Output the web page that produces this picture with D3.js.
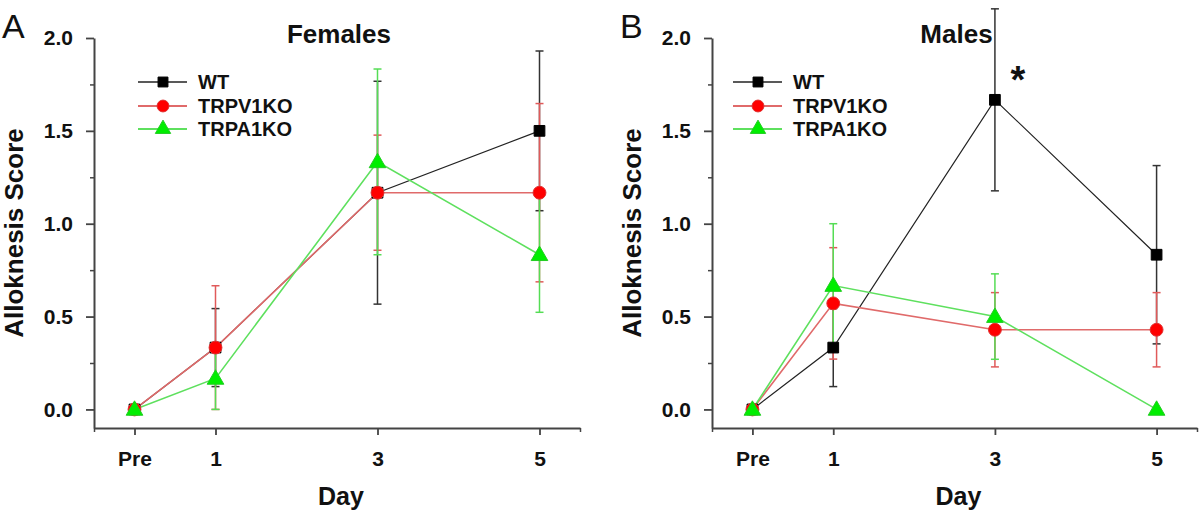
<!DOCTYPE html>
<html><head><meta charset="utf-8">
<script src="https://cdn.jsdelivr.net/npm/d3@7"></script>
<style>
html,body{margin:0;padding:0;background:#fff;}
svg{display:block;font-family:"Liberation Sans",Arial,sans-serif;}
</style></head>
<body>
<svg id="chart" width="1200" height="516"></svg>
<script>
// ---- data ----
const dayLabels = ["Pre", "1", "3", "5"];
const dayValues = [0, 1, 3, 5];
const seriesNames = ["WT", "TRPV1KO", "TRPA1KO"];
const yTicks = [0, 0.5, 1.0, 1.5, 2.0];
const yMinorTicks = [0.25, 0.75, 1.25, 1.75];

const femalesWT = [0, 0.333, 1.167, 1.5];
const femalesWTErr = [0, 0.21, 0.6, 0.43];
const femalesTRPV1 = [0, 0.333, 1.167, 1.167];
const femalesTRPV1Err = [0, 0.333, 0.31, 0.48];
const femalesTRPA1 = [0, 0.167, 1.333, 0.833];
const femalesTRPA1Err = [0, 0.167, 0.5, 0.31];

const malesWT = [0, 0.333, 1.667, 0.833];
const malesWTErr = [0, 0.21, 0.49, 0.48];
const malesTRPV1 = [0, 0.571, 0.429, 0.429];
const malesTRPV1Err = [0, 0.3, 0.2, 0.2];
const malesTRPA1 = [0, 0.667, 0.5, 0];
const malesTRPA1Err = [0, 0.333, 0.23, 0];

// ---- styles ----
const styles = [
  {line: "#222", err: "#333", fill: "#000", stroke: "#000", shape: d3.symbolSquare, size: 115},
  {line: "#e06a6a", err: "#e05a5a", fill: "#ff0000", stroke: "#e03030", shape: d3.symbolCircle, size: 130},
  {line: "#5ee05e", err: "#55dd55", fill: "#00ee00", stroke: "#22cc22", shape: d3.symbolTriangle, size: 120}
];

const svg = d3.select("#chart");
const font = '"Liberation Sans",Arial,sans-serif';

function panel(opts) {
  const x = d3.scaleLinear().domain([-0.5, 5.5]).range([opts.x0, opts.x1]);
  const y = d3.scaleLinear().domain([-0.1, 2.0]).range([428, 38]);
  const g = svg.append("g");

  // y axis
  const yAxis = d3.axisLeft(y).tickValues(yTicks).tickFormat(d3.format(".1f"))
    .tickSize(8).tickPadding(13).tickSizeOuter(0);
  const ya = g.append("g").attr("transform", `translate(${opts.x0},0)`).call(yAxis);
  ya.select(".domain").attr("stroke", "#444").attr("stroke-width", 2);
  ya.selectAll(".tick line").attr("stroke", "#444").attr("stroke-width", 1.8);
  ya.selectAll(".tick text").attr("font-family", font).attr("font-size", 21).attr("font-weight", "bold").attr("fill", "#111");
  const yMinor = d3.axisLeft(y).tickValues(yMinorTicks).tickFormat("").tickSize(4).tickSizeOuter(0);
  const ym = g.append("g").attr("transform", `translate(${opts.x0},0)`).call(yMinor);
  ym.select(".domain").remove();
  ym.selectAll(".tick line").attr("stroke", "#444").attr("stroke-width", 1.5);

  // x axis
  const xAxis = d3.axisBottom(x).tickValues(dayValues).tickFormat((d, i) => dayLabels[i])
    .tickSize(7).tickPadding(16).tickSizeOuter(0);
  const xa = g.append("g").attr("transform", `translate(0,428)`).call(xAxis);
  xa.select(".domain").attr("stroke", "#444").attr("stroke-width", 2);
  xa.selectAll(".tick line").attr("stroke", "#444").attr("stroke-width", 1.8);
  xa.selectAll(".tick text").attr("font-family", font).attr("font-size", 21).attr("font-weight", "bold").attr("fill", "#111");
  const xMinor = d3.axisBottom(x).tickValues([-0.5, 5.5]).tickFormat("").tickSize(4).tickSizeOuter(0);
  const xm = g.append("g").attr("transform", `translate(0,428)`).call(xMinor);
  xm.select(".domain").remove();
  xm.selectAll(".tick line").attr("stroke", "#444").attr("stroke-width", 1.5);

  // axis titles
  const cx = (opts.x0 + opts.x1) / 2;
  g.append("text").attr("x", cx + 2).attr("y", 43).attr("text-anchor", "middle")
    .attr("font-size", 26).attr("font-weight", "bold").attr("fill", "#111").text(opts.title);
  g.append("text").attr("x", cx + 4).attr("y", 505).attr("text-anchor", "middle")
    .attr("font-size", 25).attr("font-weight", "bold").attr("fill", "#111").text("Day");
  g.append("text").attr("transform", `translate(${opts.x0 - 71},${(38 + 428) / 2}) rotate(-90)`)
    .attr("text-anchor", "middle").attr("font-size", 26).attr("font-weight", "bold").attr("fill", "#111")
    .text("Alloknesis Score");
  g.append("text").attr("x", opts.x0 - 92).attr("y", 38).attr("font-size", 34)
    .attr("fill", "#111").text(opts.letter);

  // error bars
  opts.series.forEach((s, si) => {
    const st = styles[si];
    const eg = g.append("g");
    dayValues.forEach((dv, i) => {
      const e = s.err[i];
      if (!e) return;
      const px = x(dv), top = y(s.vals[i] + e), bot = y(s.vals[i] - e);
      eg.append("line").attr("x1", px).attr("x2", px).attr("y1", top).attr("y2", bot)
        .attr("stroke", st.err).attr("stroke-width", 1.5);
      [top, bot].forEach(v => eg.append("line").attr("x1", px - 4).attr("x2", px + 4)
        .attr("y1", v).attr("y2", v).attr("stroke", st.err).attr("stroke-width", 1.5));
    });
  });
  // lines
  opts.series.forEach((s, si) => {
    const st = styles[si];
    const line = d3.line().x((d, i) => x(dayValues[i])).y(d => y(d));
    g.append("path").datum(s.vals).attr("d", line).attr("fill", "none")
      .attr("stroke", st.line).attr("stroke-width", si === 0 ? 1.2 : 1.6);
  });
  // markers
  opts.series.forEach((s, si) => {
    const st = styles[si];
    const sym = d3.symbol().type(st.shape).size(st.size);
    g.selectAll(null).data(s.vals).enter().append("path")
      .attr("d", sym)
      .attr("transform", (d, i) => `translate(${x(dayValues[i])},${y(d) + (si === 2 ? 1 : 0)})`)
      .attr("fill", st.fill).attr("stroke", st.stroke).attr("stroke-width", 1);
  });

  // legend
  const lx = opts.legendX;
  const ly = [82, 106, 129];
  seriesNames.forEach((name, si) => {
    const st = styles[si];
    g.append("line").attr("x1", lx).attr("x2", lx + 49).attr("y1", ly[si]).attr("y2", ly[si])
      .attr("stroke", st.line).attr("stroke-width", si === 0 ? 1.5 : 2);
    g.append("path").attr("d", d3.symbol().type(st.shape).size(st.size * 0.85)())
      .attr("transform", `translate(${lx + 25},${ly[si]})`)
      .attr("fill", st.fill).attr("stroke", st.stroke);
    g.append("text").attr("x", lx + 60).attr("y", ly[si] + 7).attr("font-size", 20)
      .attr("font-weight", "bold").attr("fill", "#111").text(name);
  });

  if (opts.star) {
    g.append("text").attr("x", x(opts.star.day) + 23).attr("y", 93).attr("text-anchor", "middle")
      .attr("font-size", 38).attr("font-weight", "bold").attr("fill", "#111").text("*");
  }
}

panel({
  x0: 94, x1: 580, title: "Females", letter: "A", legendX: 138,
  series: [
    {vals: femalesWT, err: femalesWTErr},
    {vals: femalesTRPV1, err: femalesTRPV1Err},
    {vals: femalesTRPA1, err: femalesTRPA1Err}
  ]
});
panel({
  x0: 712, x1: 1197, title: "Males", letter: "B", legendX: 733, star: {day: 3},
  series: [
    {vals: malesWT, err: malesWTErr},
    {vals: malesTRPV1, err: malesTRPV1Err},
    {vals: malesTRPA1, err: malesTRPA1Err}
  ]
});
</script>
</body></html>
